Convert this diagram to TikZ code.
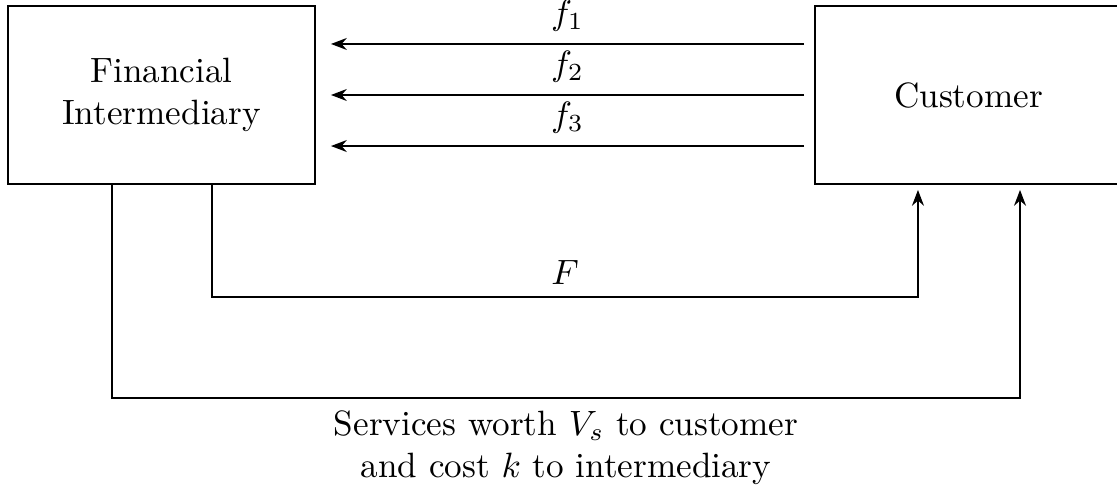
\documentclass[tikz,border=0pt]{standalone}
\usetikzlibrary{arrows.meta}
\begin{document}
\begin{tikzpicture}[x=0.01cm, y=-0.01cm, line width=0.5pt, >={Stealth[length=4.5pt,width=3.4pt]},
    every node/.style={align=center},
    party/.style={draw, rectangle, minimum width=3.07cm, minimum height=1.78cm, inner sep=0pt}]
        \useasboundingbox (0,0) rectangle (1117,488);
        \begin{scope}
        \clip (0,0) rectangle (1117,488);
        % Nodes
        \node (fi) [party] at (161.5,95) {Financial\\Intermediary};
        \node (cust) [party] at (968.5,95) {Customer};
        \end{scope}

        % Connectors
        \draw [->] ([xshift=-0.1cm, yshift=0.51cm]cust.west) -- node[above] {$f_1$} ([xshift=0.15cm, yshift=0.51cm]fi.east);
        \draw [->] ([xshift=-0.1cm]cust.west) -- node[above] {$f_2$} ([xshift=0.15cm]fi.east);
        \draw [->] ([xshift=-0.1cm, yshift=-0.51cm]cust.west) -- node[above] {$f_3$} ([xshift=0.15cm, yshift=-0.51cm]fi.east);
        \draw [->, shorten >=0.05cm] ([xshift=0.505cm]fi.south) |- node[pos=0.75, above] {$F$} (918,297) -- ([xshift=-0.505cm]cust.south);
        \draw [->, shorten >=0.05cm] ([xshift=-0.495cm]fi.south) |- node[pos=0.75, below] {Services worth $V_s$ to customer\\and cost $k$ to intermediary} (1020,398) -- ([xshift=0.515cm]cust.south);
    \end{tikzpicture}
\end{document}
